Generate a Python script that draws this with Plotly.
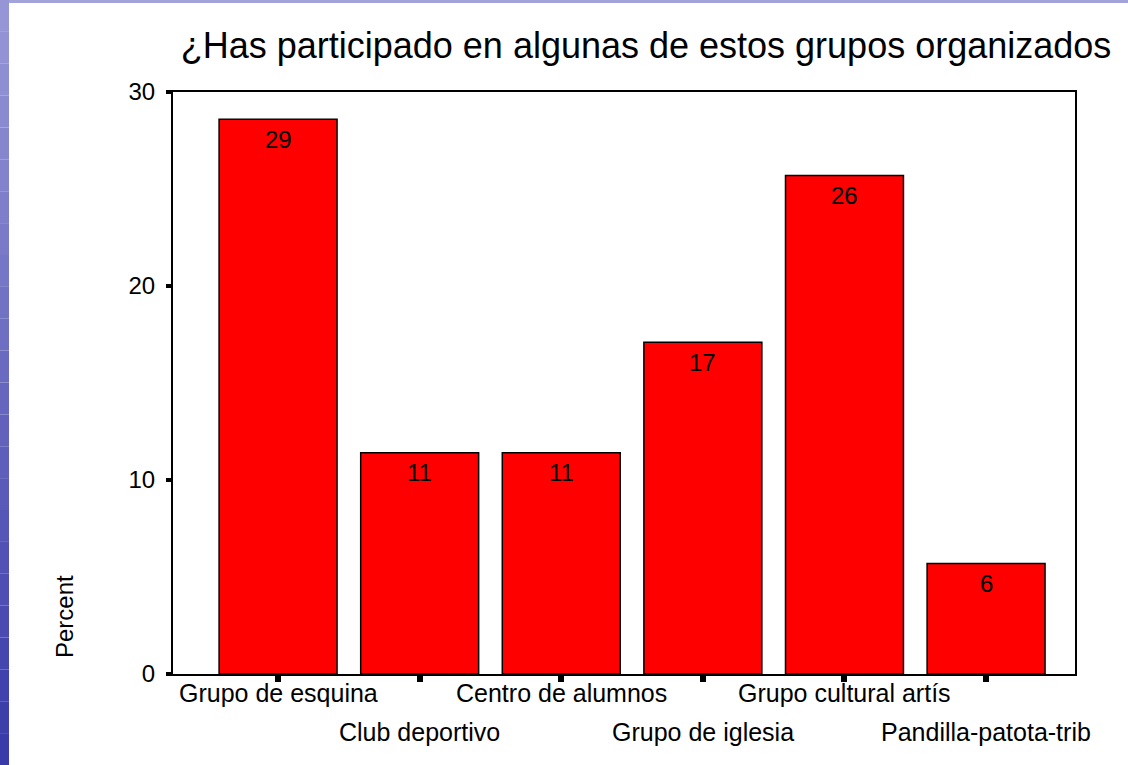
import plotly.graph_objects as go

categories = ["Grupo de esquina", "Club deportivo", "Centro de alumnos",
              "Grupo de iglesia", "Grupo cultural artís", "Pandilla-patota-trib"]
percent = [28.6, 11.4, 11.4, 17.1, 25.7, 5.7]
bar_labels = ["29", "11", "11", "17", "26", "6"]
y_ticks = [0, 10, 20, 30]

W, H = 1128, 765
L, R, T, B = 173, 53, 92, 91
PW, PH = W - L - R, H - T - B
FONT = "Arial, Liberation Sans, sans-serif"

xpos = list(range(len(categories)))

fig = go.Figure()
fig.add_trace(go.Bar(
    x=xpos, y=percent, width=0.833,
    marker=dict(color="#ff0000", line=dict(color="black", width=1.5)),
    hoverinfo="skip",
))

def px_x(px):
    return (px - L) / PW

def px_y(py):
    return (H - B - py) / PH

shapes = []
# decorative left gradient strip
top_c = (150, 150, 215)
bot_c = (58, 58, 170)
n = 24
for i in range(n):
    f = i / (n - 1)
    c = tuple(int(top_c[k] + (bot_c[k] - top_c[k]) * f) for k in range(3))
    y0 = H * i / n
    y1 = H * (i + 1) / n
    shapes.append(dict(type="rect", xref="paper", yref="paper",
                       x0=px_x(0), x1=px_x(9), y0=px_y(y1), y1=px_y(y0),
                       fillcolor="rgb(%d,%d,%d)" % c, line=dict(width=0), layer="below"))
shapes.append(dict(type="rect", xref="paper", yref="paper",
                   x0=px_x(9), x1=px_x(W), y0=px_y(3), y1=px_y(0),
                   fillcolor="#a3a3dc", line=dict(width=0), layer="below"))

annotations = []
# value labels inside the top of each bar
for i, (v, lab) in enumerate(zip(percent, bar_labels)):
    annotations.append(dict(
        x=i, y=v, xref="x", yref="y", text=lab, showarrow=False,
        xanchor="center", yanchor="middle", yshift=-20,
        font=dict(family=FONT, size=24, color="black"),
    ))
for i, cat in enumerate(categories):
    annotations.append(dict(
        x=i, y=0, xref="x", yref="paper", text=cat, showarrow=False,
        xanchor="center", yanchor="middle", yshift=-19 if i % 2 == 0 else -58,
        font=dict(family=FONT, size=25, color="black"),
    ))
annotations.append(dict(
    x=px_x(64), y=px_y(617), xref="paper", yref="paper", text="Percent",
    showarrow=False, textangle=-90, xanchor="center", yanchor="middle",
    font=dict(family=FONT, size=24, color="black"),
))

fig.update_layout(
    width=W, height=H,
    margin=dict(l=L, r=R, t=T, b=B, pad=0),
    paper_bgcolor="white", plot_bgcolor="white",
    showlegend=False,
    title=dict(text="¿Has participado en algunas de estos grupos organizados",
               x=646 / W, xref="container", xanchor="center",
               y=1 - 45 / H, yref="container", yanchor="middle",
               font=dict(family=FONT, size=36, color="black")),
    xaxis=dict(range=[-0.742, 5.628], tickvals=xpos, ticktext=[""] * len(xpos),
               ticks="outside", ticklen=6, tickwidth=6, tickcolor="black",
               showline=True, linecolor="black", linewidth=2, mirror=True,
               showgrid=False, zeroline=False, fixedrange=True),
    yaxis=dict(range=[0, 30], tickvals=y_ticks, ticks="outside", ticklen=5,
               tickwidth=4, tickcolor="black", ticklabelstandoff=6,
               tickfont=dict(family=FONT, size=24, color="black"),
               showline=True, linecolor="black", linewidth=2, mirror=True,
               showgrid=False, zeroline=False, fixedrange=True),
    shapes=shapes, annotations=annotations,
    font=dict(family=FONT, color="black"),
)

fig.write_html("out.html", config={"displayModeBar": False},
               post_script="document.body.style.margin='0';document.body.style.padding='0';")
